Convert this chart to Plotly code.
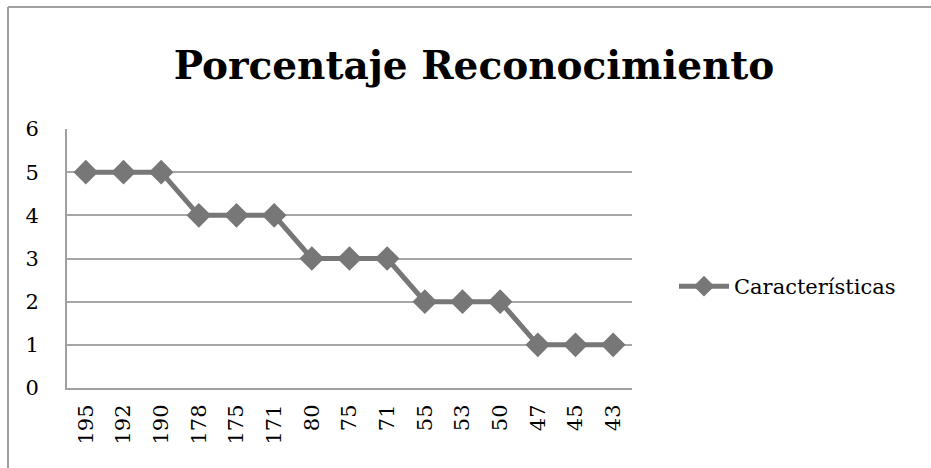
import plotly.graph_objects as go

categories = ["195", "192", "190", "178", "175", "171", "80", "75", "71", "55", "53", "50", "47", "45", "43"]
values = [5, 5, 5, 4, 4, 4, 3, 3, 3, 2, 2, 2, 1, 1, 1]
series_name = "Características"
title_text = "Porcentaje Reconocimiento"

FONT = "DejaVu Serif"
GRAY = "#777777"

fig = go.Figure()
fig.add_trace(go.Scatter(
    x=categories, y=values, name=series_name, mode="lines+markers",
    line=dict(color=GRAY, width=5),
    marker=dict(symbol="diamond", size=19, color=GRAY),
))

L, R, T, B = 67, 299, 129, 80
W, H = 931, 468
pw, ph = W - L - R, H - T - B

fig.update_layout(
    width=W, height=H,
    margin=dict(l=L, r=R, t=T, b=B),
    paper_bgcolor="white", plot_bgcolor="white",
    font=dict(family=FONT, color="black", size=21),
    title=dict(text="<b>" + title_text + "</b>", x=(474) / W, xanchor="center",
               y=1 - 65 / H, yanchor="middle", font=dict(size=39, family=FONT)),
    showlegend=True,
    legend=dict(x=1 + (674 - 632) / pw, y=0.5 - (286 - 258) / ph, xanchor="left", yanchor="middle",
                font=dict(size=21, family=FONT), itemwidth=50, bgcolor="rgba(0,0,0,0)"),
    xaxis=dict(type="category", tickangle=-90, showgrid=False, showline=True, linecolor="#a0a0a0",
               linewidth=2, ticks="", tickfont=dict(size=21), range=[-0.5, len(categories) - 0.5],
               ticklabelstandoff=6),
    yaxis=dict(range=[0, 6], dtick=1, showgrid=True, gridcolor="#a6a6a6", gridwidth=1.5,
               showline=True, linecolor="#a0a0a0", linewidth=2, ticks="", tickfont=dict(size=21),
               zeroline=False, ticklabelstandoff=22),
    shapes=[
        dict(type="line", xref="paper", yref="paper", x0=(8 - L) / pw, x1=1 + (W + 5 - L - pw) / pw,
             y0=1 + (T - 7) / ph, y1=1 + (T - 7) / ph, line=dict(color="#a0a0a0", width=2)),
        dict(type="line", xref="paper", yref="paper", x0=(8 - L) / pw, x1=(8 - L) / pw,
             y0=1 + (T - 7) / ph, y1=-(B + 5) / ph, line=dict(color="#a0a0a0", width=2)),
    ],
)

fig.write_html("out.html")
